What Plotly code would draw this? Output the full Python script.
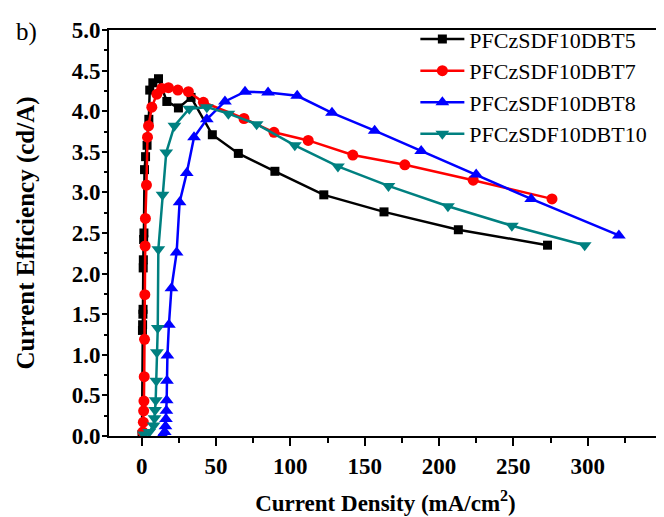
import plotly.graph_objects as go

series_names = ["PFCzSDF10DBT5", "PFCzSDF10DBT7", "PFCzSDF10DBT8", "PFCzSDF10DBT10"]

dbt5_x = [0.2, 0.5, 0.6, 0.8, 0.9, 1.0, 1.1, 1.3, 1.5, 1.9, 2.6, 3.6, 4.8, 5.4, 7.5, 11.3, 16.9, 24.7, 33.2, 47.5, 65, 89.6, 122.5, 163, 213, 273]
dbt5_y = [0.02, 1.30, 1.37, 1.50, 1.56, 2.07, 2.17, 2.42, 2.50, 3.28, 3.44, 3.58, 3.90, 4.26, 4.35, 4.40, 4.12, 4.04, 4.17, 3.71, 3.48, 3.26, 2.97, 2.76, 2.54, 2.35]

dbt7_x = [0.8, 1.1, 1.3, 1.5, 1.7, 1.9, 2.1, 2.3, 2.5, 3.2, 3.9, 4.6, 6.8, 10.2, 13.5, 18.0, 24.3, 31.4, 41.5, 68.8, 89.0, 112.0, 142.0, 177.0, 223.0, 276.0]
dbt7_y = [0.05, 0.17, 0.31, 0.43, 0.73, 1.19, 1.74, 2.34, 2.68, 3.09, 3.68, 3.82, 4.05, 4.21, 4.28, 4.29, 4.26, 4.24, 4.11, 3.91, 3.74, 3.64, 3.46, 3.34, 3.15, 2.92]

dbt8_x = [14.0, 15.5, 16.0, 16.3, 16.6, 16.8, 17.0, 17.3, 18.3, 20.0, 23.5, 25.5, 30.3, 35.2, 43.8, 56.0, 69.5, 85.0, 104.6, 128.0, 156.7, 188.0, 225.0, 262.0, 321.0]
dbt8_y = [0.01, 0.05, 0.12, 0.21, 0.31, 0.44, 0.68, 0.99, 1.37, 1.82, 2.26, 2.88, 3.24, 3.68, 3.90, 4.12, 4.24, 4.23, 4.19, 3.98, 3.76, 3.51, 3.22, 2.92, 2.47]

dbt10_x = [1.5, 5.0, 8.0, 8.6, 9.0, 9.4, 9.8, 10.2, 10.8, 11.2, 14.0, 16.5, 22.0, 32.0, 43.8, 58.3, 77.3, 103.0, 132.0, 166.0, 206.0, 249.0, 298.0]
dbt10_y = [0.02, 0.05, 0.13, 0.22, 0.32, 0.44, 0.68, 1.03, 1.33, 2.30, 2.97, 3.49, 3.82, 4.03, 4.05, 3.97, 3.84, 3.58, 3.32, 3.08, 2.83, 2.59, 2.35]

x_tick_vals = [0, 50, 100, 150, 200, 250, 300]
y_tick_vals = [0.0, 0.5, 1.0, 1.5, 2.0, 2.5, 3.0, 3.5, 4.0, 4.5, 5.0]

colors = ["#000000", "#FF0000", "#0000FF", "#008080"]
symbols = ["square", "circle", "triangle-up", "triangle-down"]
sizes = [9, 11, 12, 12]
xs = [dbt5_x, dbt7_x, dbt8_x, dbt10_x]
ys = [dbt5_y, dbt7_y, dbt8_y, dbt10_y]

fig = go.Figure()
for name, x, y, c, s, sz in zip(series_names, xs, ys, colors, symbols, sizes):
    fig.add_trace(go.Scatter(
        x=x, y=y, name=name, mode="lines+markers",
        line=dict(color=c, width=2.5),
        marker=dict(symbol=s, size=sz, color=c, line=dict(width=0)),
    ))

axis_font = dict(family="Liberation Serif", size=23, color="black")

fig.update_layout(
    width=664, height=517,
    margin=dict(l=101, r=10, t=16, b=89),
    paper_bgcolor="white", plot_bgcolor="white",
    font=dict(family="Liberation Serif", color="black"),
    legend=dict(
        x=0.554, y=1.029, xanchor="left", yanchor="top",
        font=dict(family="Liberation Serif", size=22, color="black"),
        bgcolor="rgba(0,0,0,0)", borderwidth=0, itemwidth=44,
    ),
    showlegend=True,
)

fig.update_xaxes(
    automargin=False,
    range=[-22, 350], tickvals=x_tick_vals, ticktext=[f"<b>{v}</b>" for v in x_tick_vals],
    ticks="outside", ticklen=8, tickwidth=2, tickcolor="black",
    minor=dict(ticks="outside", ticklen=5, tickwidth=2, tickcolor="black", dtick=25, tick0=0),
    showline=True, linewidth=2, linecolor="black", mirror=True,
    showgrid=False, zeroline=False, tickfont=axis_font,
    title=dict(text="<b>Current Density (mA/cm<sup>2</sup>)</b>",
               font=dict(family="Liberation Serif", size=23, color="black"), standoff=17),
)
fig.update_yaxes(
    automargin=False,
    range=[0, 5.0], tickvals=y_tick_vals, ticktext=[f"<b>{v:.1f}</b>" for v in y_tick_vals],
    ticks="outside", ticklen=5, tickwidth=2, tickcolor="black",
    minor=dict(ticks="outside", ticklen=3, tickwidth=2, tickcolor="black", dtick=0.25, tick0=0),
    showline=True, linewidth=2, linecolor="black", mirror=True,
    showgrid=False, zeroline=False, tickfont=axis_font, ticklabelstandoff=-3,
    title=dict(text="<b>Current Efficiency (cd/A)</b>",
               font=dict(family="Liberation Serif", size=25, color="black"), standoff=30),
)

fig.add_annotation(
    text="b)", xref="paper", yref="paper", x=-0.149, y=0.995,
    xanchor="center", yanchor="middle", showarrow=False,
    font=dict(family="Liberation Serif", size=25, color="black"),
)

fig.write_html("out.html")
